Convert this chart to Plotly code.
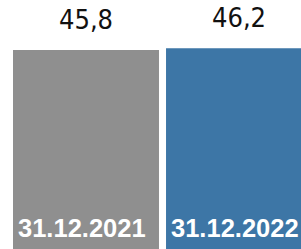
import plotly.graph_objects as go

categories = ["31.12.2021", "31.12.2022"]
values = [45.8, 46.2]
value_labels = ["45,8", "46,2"]
colors = ["#8f8f8f", "#3d76a6"]

fig = go.Figure()
fig.add_trace(go.Bar(
    x=list(range(len(categories))),
    y=values,
    marker=dict(color=colors, line=dict(width=0)),
    width=0.954,
    hoverinfo="skip",
))

annotations = []
for i, (v, lbl, cat) in enumerate(zip(values, value_labels, categories)):
    annotations.append(dict(
        x=i, y=v, xref="x", yref="y", text=lbl, showarrow=False,
        yanchor="bottom", yshift=13,
        font=dict(family="DejaVu Sans Condensed, sans-serif", size=27, color="#111111"),
    ))
    annotations.append(dict(
        x=i - 0.477, y=0, xref="x", yref="y", text="<b>" + cat + "</b>", showarrow=False,
        xanchor="left", yanchor="middle", xshift=3, yshift=21,
        font=dict(family="Liberation Sans, Arial, sans-serif", size=25.5, color="#ffffff"),
    ))

fig.update_layout(
    width=301, height=249,
    margin=dict(l=0, r=0, t=0, b=0),
    paper_bgcolor="white", plot_bgcolor="white",
    showlegend=False,
    xaxis=dict(range=[-0.562, 1.405], visible=False),
    yaxis=dict(range=[0, 57.3], visible=False),
    annotations=annotations,
)

fig.write_html("out.html", config={"displayModeBar": False},
               post_script="document.body.style.margin='0px';document.body.style.overflow='hidden';")
